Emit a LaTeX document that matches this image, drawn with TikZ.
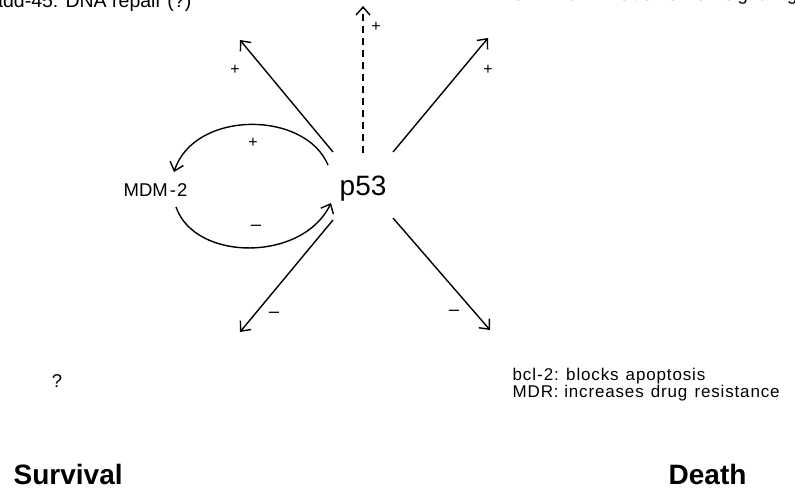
\documentclass[tikz,border=0pt]{standalone}
\usepackage{fontspec}
\setmainfont{Liberation Sans}
\newfontfamily\spacedfont[LetterSpace=5]{Liberation Sans}
\usetikzlibrary{arrows.meta}
\begin{document}
\begin{tikzpicture}[x=1pt,y=-1pt,line width=1.4pt,
  arr/.style={-{Straight Barb[length=8pt,width=14pt,line width=1.4pt]}},
  lbl/.style={font=\fontsize{18.5}{18.5}\selectfont,inner sep=0pt},
  note/.style={font=\spacedfont\fontsize{17}{15}\selectfont,inner sep=0pt,align=left},
  mainlbl/.style={font=\fontsize{28}{28}\selectfont,inner sep=0pt},
  sign/.style={font=\fontsize{16}{16}\selectfont,inner sep=0pt},
  big/.style={font=\fontsize{28}{28}\selectfont\bfseries,inner sep=0pt,text depth=0pt}]
\useasboundingbox (0,0) rectangle (795,488);
\clip (0,0) rectangle (795,488);

% texts
\node[lbl,font=\fontsize{19.5}{19.5}\selectfont,anchor=base east] (gadd) at (192,7) {gadd-45: DNA repair (?)};
\node[lbl,anchor=base west] (igf) at (505,0.5) {IGF-BP3: inhibition of IGF signaling};
\node[mainlbl,anchor=base west] (p53) at (339,195) {p53};
\node[lbl,anchor=base west] (mdm) at (123,196) {MDM\kern2pt-\kern1pt2};
\node[note,anchor=base west] (bcl) at (512,397)
  {bcl\kern1pt-\kern1pt2: blocks\kern1.5pt\ apoptosis\\MDR: increases\kern1.5pt\ drug\kern1.5pt\ resistance};
\node[lbl] (q) at (57,381) {?};
\node[big,anchor=base west] (surv) at (13,484) {Survival};
\node[big,anchor=base west] (death) at (668,484) {Death};

% arrow end points
\coordinate (ul0) at (333,152); \coordinate (ul1) at (240,40);
\coordinate (up0) at (363,153); \coordinate (up1) at (363,6);
\coordinate (ur0) at (393,152); \coordinate (ur1) at (488,38);
\coordinate (ll0) at (333,220); \coordinate (ll1) at (240,332);
\coordinate (lr0) at (393,218); \coordinate (lr1) at (490,330);
\coordinate (c0) at (328,165); \coordinate (c1) at (174,172);
\coordinate (d0) at (176,207); \coordinate (d1) at (331,203);

\draw[arr] (ul0) -- (ul1);
\draw[arr,dash pattern=on 7pt off 5pt] (up0) -- (up1);
\draw[arr] (ur0) -- (ur1);
\draw[arr] (ll0) -- (ll1);
\draw[arr] (lr0) -- (lr1);
\draw[arr] (c0) .. controls (305,110) and (194,110) .. (c1);
\draw[arr] (d0) .. controls (195,262) and (303,262) .. (d1);

% signs
\node[sign] (s1) at (235,70) {+};
\node[sign] (s2) at (376,27) {+};
\node[sign] (s3) at (488,70) {+};
\node[sign] (s4) at (253,143) {+};
\node[lbl] (m1) at (256,228) {–};
\node[lbl] (m2) at (274,315) {–};
\node[lbl] (m3) at (454,313) {–};
\end{tikzpicture}
\end{document}
